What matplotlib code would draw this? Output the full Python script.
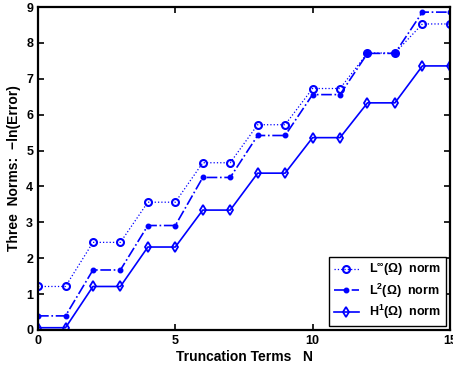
import numpy as np
import matplotlib
matplotlib.use("Agg")
import matplotlib.pyplot as plt

plt.rcParams['font.family'] = ['Liberation Sans', 'DejaVu Sans']
plt.rcParams['font.weight'] = 'bold'
plt.rcParams['mathtext.default'] = 'regular'

# Truncation terms and the three error norms (-ln(Error))
N = np.arange(0, 16)
linf_norm = [1.21, 1.21, 2.44, 2.44, 3.56, 3.56, 4.66, 4.66,
             5.72, 5.72, 6.73, 6.73, 7.72, 7.72, 8.53, 8.53]
l2_norm = [0.39, 0.39, 1.67, 1.67, 2.91, 2.91, 4.25, 4.25,
           5.42, 5.42, 6.56, 6.56, 7.71, 7.71, 8.86, 8.86]
h1_norm = [0.06, 0.06, 1.21, 1.21, 2.31, 2.31, 3.34, 3.34,
           4.37, 4.37, 5.36, 5.36, 6.33, 6.33, 7.36, 7.36]
labels = [r'L$^{\infty}$(Ω)  norm', r'L$^{2}$(Ω)  norm', r'H$^{1}$(Ω)  norm']

blue = (0, 0, 1)

fig = plt.figure(figsize=(4.53, 3.74), dpi=100)
ax = fig.add_axes([0.084, 0.118, 0.909, 0.863])

ax.plot(N, linf_norm, ':', color=blue, marker='o', markersize=5,
        markerfacecolor='none', markeredgewidth=1.5, linewidth=0.9, label=labels[0])
ax.plot(N, l2_norm, '-.', color=blue, marker='.', markersize=6.5,
        linewidth=1.2, label=labels[1])
ax.plot(N, h1_norm, '-', color=blue, marker='d', markersize=5,
        markerfacecolor='none', markeredgewidth=1.3, linewidth=1.2, label=labels[2])

ax.set_xlim(0, 15)
ax.set_ylim(0, 9)
ax.set_xticks([0, 5, 10, 15])
ax.set_yticks(range(0, 10))
ax.tick_params(direction='in', top=True, right=True, labelsize=9, width=1.2, length=4)
for s in ax.spines.values():
    s.set_linewidth(1.6)

ax.set_xlabel('Truncation Terms   N', fontsize=10, fontweight='bold', labelpad=2)
ax.set_ylabel('Three  Norms:  \u2212ln(Error)', fontsize=10, fontweight='bold', labelpad=4)

leg = ax.legend(loc='lower right', fancybox=False, edgecolor='black',
                fontsize=9, handlelength=2.0, borderaxespad=0.3, labelspacing=0.25)
leg.get_frame().set_linewidth(1.0)
leg.get_frame().set_alpha(1)

fig.savefig('out.png', dpi=100)
